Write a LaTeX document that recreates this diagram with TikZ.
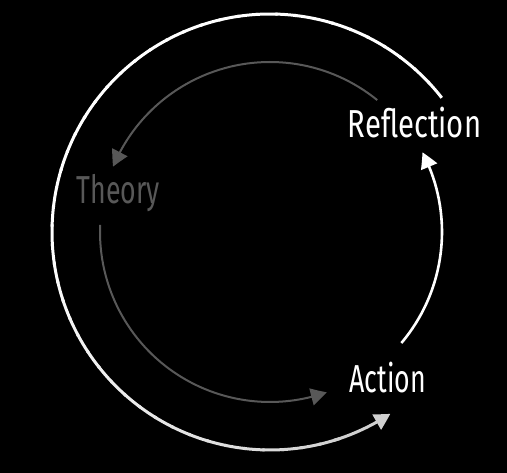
\documentclass[tikz,border=0pt]{standalone}
\usepackage{fontspec}
\setmainfont{Fira Sans}[FakeStretch=0.75]
\newfontfamily\narrowfont{Fira Sans}[FakeStretch=0.685]
\usetikzlibrary{arrows.meta,bending}
\definecolor{dimgray}{HTML}{585858}
\definecolor{lightend}{HTML}{D0D0D0}
\begin{document}
\begin{tikzpicture}[x=1pt,y=1pt,
  lbl/.style={font=\fontsize{39}{40}\selectfont, anchor=base, inner sep=0pt},
  nlbl/.style={font=\narrowfont\fontsize{39}{40}\selectfont, anchor=base, inner sep=0pt},
  tipw/.style={-{Triangle[length=16pt,width=17pt,bend]}},
  outerline/.style={line width=3pt},
  innerline/.style={line width=2pt, dimgray},
  rightline/.style={line width=2.6pt, white}]
\fill[black] (0,0) rectangle (507,473);
\useasboundingbox (0,0) rectangle (507,473);
\coordinate (C) at (270,241);
\node[lbl,white] (refl) at (414.5,335.7) {Reflection};
\node[nlbl,dimgray] (theory) at (118.3,269) {Theory};
\node[nlbl,white] (action) at (387.8,80.3) {Action};
% outer arc: Reflection -> Action, with fading toward the end
\foreach \a in {38,43,...,283}{
  \pgfmathsetmacro\m{100-20*max(0,(\a-180)/120)}
  \draw[outerline, white!\m!black] ([shift={(\a:218)}]C) arc[start angle=\a, end angle=\a+5.6, radius=218];
}
\draw[outerline, lightend, tipw] ([shift={(287:218)}]C) arc[start angle=287, end angle=303.5, radius=218];
% inner gray arc: Reflection -> Theory
\draw[innerline, tipw] ([shift={(50.9:170)}]C) arc[start angle=50.9, end angle=157.4, radius=170];
% inner gray arc: Theory -> Action
\draw[innerline, tipw] ([shift={(177.6:170)}]C) arc[start angle=177.6, end angle=289.5, radius=170];
% right white arc: Action -> Reflection
\draw[rightline, tipw] ([shift={(-40.2:172)}]C) arc[start angle=-40.2, end angle=27.6, radius=172];
\end{tikzpicture}
\end{document}
